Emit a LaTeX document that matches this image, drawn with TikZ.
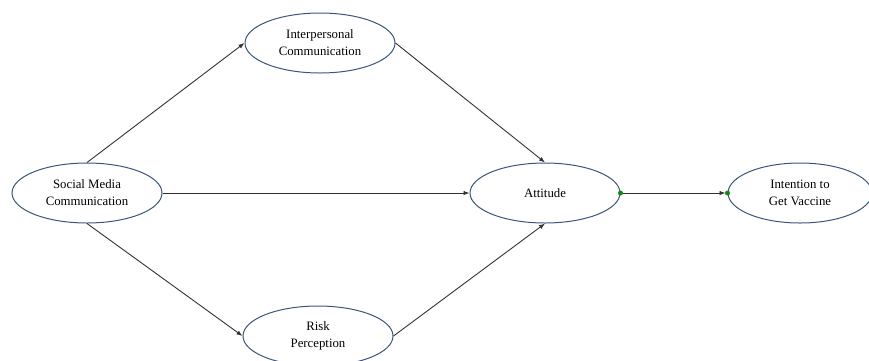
\documentclass[tikz,border=0pt]{standalone}
\usepackage{fontspec}
\setmainfont{Liberation Serif}
\usetikzlibrary{positioning,shapes,arrows.meta}
\definecolor{ovalblue}{RGB}{60,84,124}
\definecolor{dotgreen}{RGB}{20,140,20}

\begin{document}
\begin{tikzpicture}[x=1pt,y=-1pt,
    construct/.style={draw=ovalblue,line width=1pt,ellipse,minimum width=150pt,minimum height=60pt,align=center,font=\fontsize{12.8}{17}\selectfont},
    path/.style={draw=black!80,line width=0.9pt,-{Latex[length=6pt,width=4.5pt]}},
    joint/.style={circle,fill=dotgreen,inner sep=0pt,minimum size=5pt}]
    \useasboundingbox (0,0) rectangle (869,360);

    % Constructs
    \node[construct] (social) at (87,193) {Social Media\\Communication};
    \node[construct] (inter) at (320,43) {Interpersonal\\Communication};
    \node[construct] (risk) at (318,336) {Risk\\Perception};
    \node[construct] (attitude) at (545,193) {Attitude};
    \node[construct,minimum width=144pt] (intention) at (800,193) {Intention to\\Get Vaccine};

    % Paths
    \draw[path] (social.north) -- (inter.west);
    \draw[path] (social.south) -- (risk.west);
    \draw[path] (social.east) -- (attitude.west);
    \draw[path] (inter.east) -- (attitude.north);
    \draw[path] (risk.east) -- (attitude.south);
    \draw[path,shorten >=2pt] (attitude.east) -- (intention.west);

    % Anchor dots
    \node[joint] (dotA) at (attitude.east) {};
    \node[joint] (dotB) at (intention.west) {};
\end{tikzpicture}
\end{document}
